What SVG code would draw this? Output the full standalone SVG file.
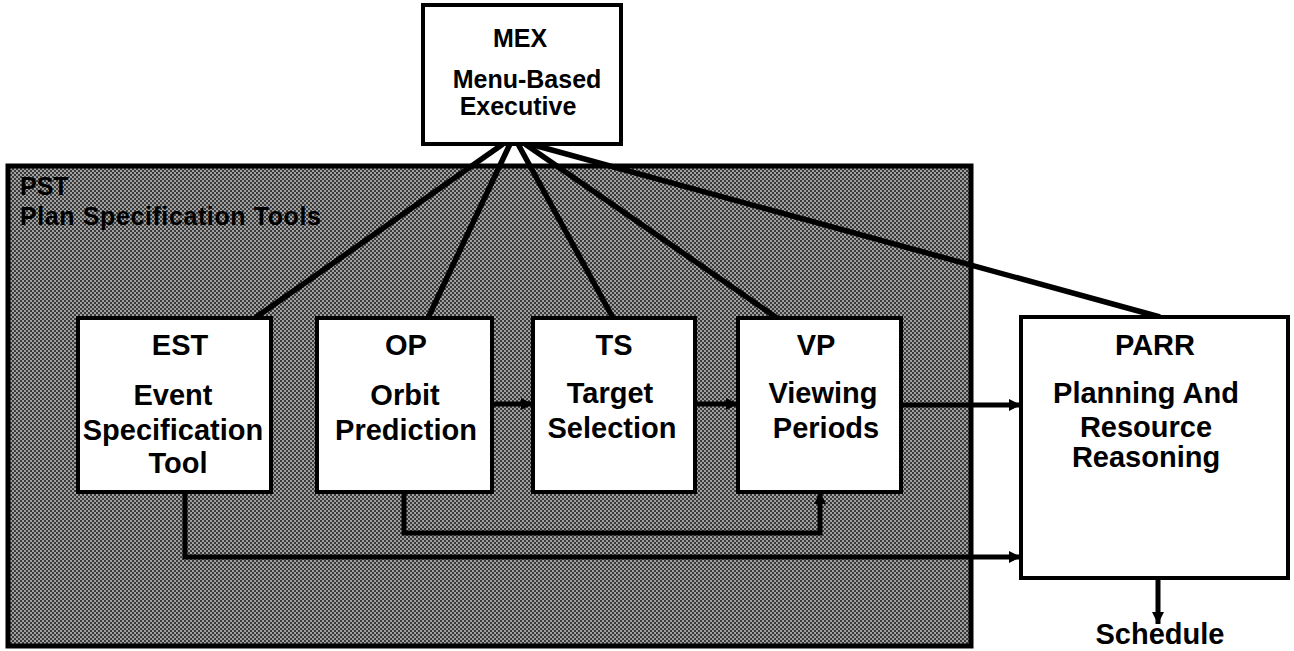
<svg xmlns="http://www.w3.org/2000/svg" width="1294" height="651" viewBox="0 0 1294 651">
<defs>
<pattern id="ht" width="4" height="4" patternUnits="userSpaceOnUse">
<rect width="4" height="4" fill="#a0a0a0"/>
<rect x="0" y="0" width="2" height="2" fill="#3a3a3a"/>
<rect x="2" y="2" width="2" height="2" fill="#3a3a3a"/>
</pattern>
<marker id="ah" viewBox="0 0 10 10" refX="10" refY="5" markerWidth="3" markerHeight="2.4" orient="auto" markerUnits="strokeWidth">
<path d="M0,0 L10,5 L0,10 z" fill="#000"/>
</marker>
</defs>
<style>
.box{fill:#fff;stroke:#000;stroke-width:4}
.t{font-family:"Liberation Sans",Arial,sans-serif;font-weight:bold;fill:#000;text-anchor:middle}
.c{fill:none;stroke:#000;stroke-width:5.5}
.a{fill:none;stroke:#000;stroke-width:5;marker-end:url(#ah)}
</style>
<rect width="1294" height="651" fill="#fff"/>
<g id="PST">
<rect x="8" y="166" width="963" height="480" fill="url(#ht)" stroke="#000" stroke-width="5"/>
<text class="t" x="20" y="195" font-size="25" style="text-anchor:start">PST</text>
<text class="t" x="20" y="225" font-size="25" style="text-anchor:start" letter-spacing="0.6">Plan Specification Tools</text>
</g>
<g id="connectors">
<line class="c" x1="503" y1="144" x2="255" y2="318"/>
<line class="c" x1="510" y1="144" x2="428" y2="318"/>
<line class="c" x1="518" y1="144" x2="613" y2="318"/>
<line class="c" x1="525" y1="144" x2="777" y2="318"/>
<line class="c" x1="530" y1="144" x2="1160" y2="317"/>
<line class="a" x1="492" y1="404" x2="533" y2="404"/>
<line class="a" x1="695" y1="404" x2="738" y2="404"/>
<line class="a" x1="901" y1="405" x2="1021" y2="405"/>
<polyline class="a" points="185,492 185,557 1021,557"/>
<polyline class="a" points="404,492 404,533 820,533 820,492"/>
<line class="a" x1="1158" y1="578" x2="1158" y2="624"/>
</g>
<g id="MEX">
<rect class="box" x="423" y="5" width="198" height="139"/>
<text class="t" x="520" y="47" font-size="25">MEX</text>
<text class="t" x="527" y="88" font-size="25">Menu-Based</text>
<text class="t" x="518" y="115" font-size="25">Executive</text>
</g>
<g id="EST">
<rect class="box" x="78" y="318" width="193" height="174"/>
<text class="t" x="180" y="355" font-size="29">EST</text>
<text class="t" x="173" y="405" font-size="29">Event</text>
<text class="t" x="173" y="440" font-size="29">Specification</text>
<text class="t" x="178" y="473" font-size="29">Tool</text>
</g>
<g id="OP">
<rect class="box" x="317" y="318" width="175" height="174"/>
<text class="t" x="406" y="355" font-size="29">OP</text>
<text class="t" x="405" y="405" font-size="29">Orbit</text>
<text class="t" x="406" y="440" font-size="29">Prediction</text>
</g>
<g id="TS">
<rect class="box" x="533" y="318" width="162" height="174"/>
<text class="t" x="614" y="355" font-size="29">TS</text>
<text class="t" x="610" y="403" font-size="29">Target</text>
<text class="t" x="612" y="438" font-size="29">Selection</text>
</g>
<g id="VP">
<rect class="box" x="738" y="318" width="163" height="174"/>
<text class="t" x="816" y="355" font-size="29">VP</text>
<text class="t" x="823" y="403" font-size="29">Viewing</text>
<text class="t" x="826" y="438" font-size="29">Periods</text>
</g>
<g id="PARR">
<rect class="box" x="1021" y="317" width="267" height="261"/>
<text class="t" x="1155" y="355" font-size="29">PARR</text>
<text class="t" x="1146" y="403" font-size="29">Planning And</text>
<text class="t" x="1146" y="437" font-size="29">Resource</text>
<text class="t" x="1146" y="467" font-size="29">Reasoning</text>
</g>
<g id="Schedule">
<text class="t" x="1160" y="644" font-size="29">Schedule</text>
</g>
</svg>
